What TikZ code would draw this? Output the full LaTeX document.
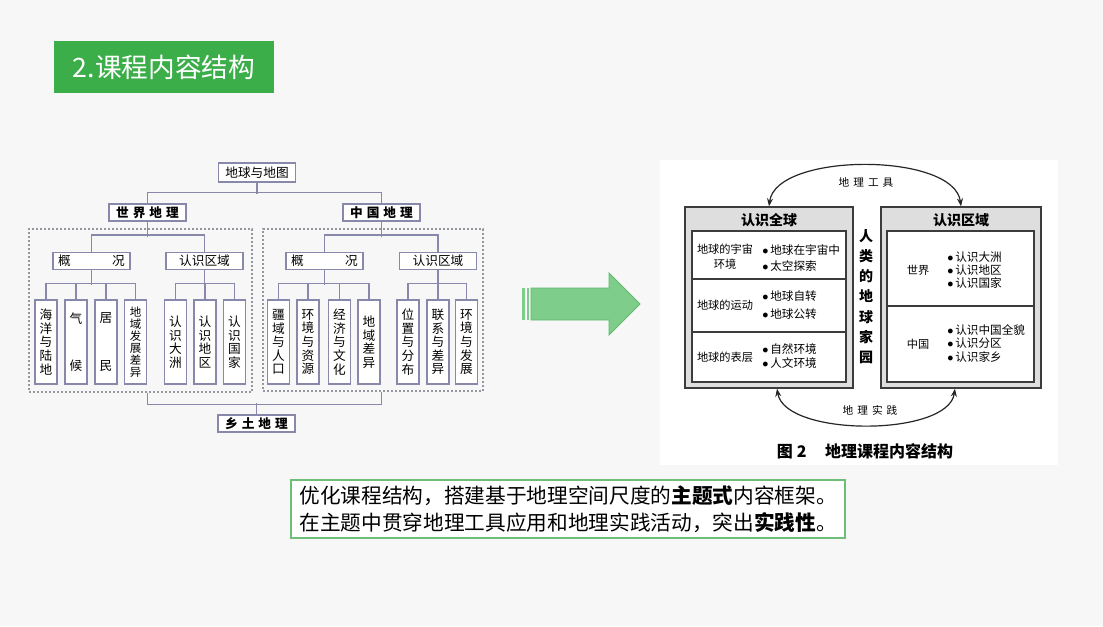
\documentclass[tikz,border=0pt]{standalone}
\usepackage{fontspec}
\setmainfont{Noto Sans CJK SC}
\newfontfamily\song{Noto Sans CJK SC}
\usetikzlibrary{arrows.meta}
\definecolor{bg}{RGB}{247,247,247}
\definecolor{tgreen}{RGB}{59,174,73}
\definecolor{tlc}{RGB}{136,136,170}
\definecolor{dgrey}{RGB}{150,150,160}
\definecolor{agreen}{RGB}{126,205,138}
\definecolor{agreenb}{RGB}{96,186,110}
\definecolor{bgreen}{RGB}{110,190,120}
\definecolor{panel}{RGB}{222,222,222}
\definecolor{dline}{RGB}{60,60,60}
\begin{document}
\begin{tikzpicture}[x=0.75pt,y=-0.75pt,
  tl/.style={draw=tlc, line width=0.8pt},
  tbox/.style={draw=tlc, fill=white, line width=0.8pt, inner sep=0pt, minimum width=57.75pt, minimum height=12.75pt, font=\fontsize{9.5}{10}\selectfont},
  tboxb/.style={tbox, font=\fontsize{9.5}{10}\selectfont\bfseries},
  leaf/.style={draw=tlc, fill=white, line width=0.8pt, inner sep=0pt, minimum width=16.5pt, minimum height=63pt, align=center, font=\fontsize{9.5}{10.2}\selectfont},
  dbox/.style={draw=dgrey, line width=0.8pt, dash pattern=on 1.5pt off 1.5pt, inner sep=0pt},
  obox/.style={draw=dline, fill=panel, line width=1pt, inner sep=0pt},
  ibox/.style={draw=dline, fill=white, line width=1pt, inner sep=0pt},
  stext/.style={font=\song\fontsize{8.4}{11}\selectfont, align=center, inner sep=0pt},
  blist/.style={font=\song\fontsize{8.7}{12}\selectfont, align=left, anchor=west, inner sep=0pt},
  arc/.style={draw=black!85, line width=0.9pt, {Stealth[length=6pt,width=4.5pt]}-{Stealth[length=6pt,width=4.5pt]}},
]
\useasboundingbox (0,0) rectangle (1103,626);
\fill[bg] (0,0) rectangle (1103,626);

% title
\node[fill=tgreen, minimum width=165pt, minimum height=39pt, text=white, inner sep=0pt,
      font=\fontsize{20}{22}\selectfont] (title) at (164,67) {2.课程内容结构};

% ---------- left tree ----------
\node[dbox, minimum width=167.25pt, minimum height=122.25pt] (wbox) at (140.5,310.5) {};
\node[dbox, minimum width=165pt, minimum height=121.5pt] (zbox) at (373,310) {};

\node[tbox, minimum height=14.25pt] (dq) at (257,172.5) {地球与地图};
\node[tboxb] (sj) at (147.5,212.5) {世\hspace{3pt}界\hspace{3pt}地\hspace{3pt}理};
\node[tboxb] (zg) at (381.5,212.5) {中\hspace{3pt}国\hspace{3pt}地\hspace{3pt}理};
\node[tboxb] (xt) at (256.5,423.5) {乡\hspace{3pt}土\hspace{3pt}地\hspace{3pt}理};

\node[tbox] (gk1) at (91.5,261) {概\hspace{31pt}况};
\node[tbox] (rq1) at (204.5,261) {认识区域};
\node[tbox] (gk2) at (324.5,261) {概\hspace{31pt}况};
\node[tbox] (rq2) at (438,261) {认识区域};

\node[leaf] (a1) at (46,342) {海\\洋\\与\\陆\\地};
\node[leaf] (a2) at (76,342) {气\\[25.5pt]候};
\node[leaf] (a3) at (106,342) {居\\[25.5pt]民};
\node[leaf, font=\fontsize{8.6}{9}\selectfont] (a4) at (135.5,342) {地\\域\\发\\展\\差\\异};
\node[leaf] (a5) at (175.5,342) {认\\识\\大\\洲};
\node[leaf] (a6) at (205,342) {认\\识\\地\\区};
\node[leaf] (a7) at (234.5,342) {认\\识\\国\\家};

\node[leaf] (b1) at (278.5,342) {疆\\域\\与\\人\\口};
\node[leaf] (b2) at (308,342) {环\\境\\与\\资\\源};
\node[leaf] (b3) at (339.5,342) {经\\济\\与\\文\\化};
\node[leaf] (b4) at (369,342) {地\\域\\差\\异};
\node[leaf] (b5) at (408,342) {位\\置\\与\\分\\布};
\node[leaf] (b6) at (438,342) {联\\系\\与\\差\\异};
\node[leaf] (b7) at (466.5,342) {环\\境\\与\\发\\展};

\draw[tl] (dq.south) -- ++(0,11);
\draw[tl] (sj.north) -- ++(0,-11) -| (zg.north);

\draw[tl] (sj.south) -- ++(0,15);
\draw[tl] (gk1.north) -- ++(0,-17) -| (rq1.north);
\draw[tl] (gk1.south) -- ++(0,15);
\draw[tl] (a1.north) -- ++(0,-16) -| (a4.north);
\draw[tl] (a2.north) -- ++(0,-16);
\draw[tl] (a3.north) -- ++(0,-16);
\draw[tl] (rq1.south) -- ++(0,15);
\draw[tl] (a5.north) -- ++(0,-16) -| (a7.north);
\draw[tl] (a6.north) -- ++(0,-16);

\draw[tl] (zg.south) -- ++(0,15);
\draw[tl] (gk2.north) -- ++(0,-17) -| (rq2.north);
\draw[tl] (gk2.south) -- ++(0,15);
\draw[tl] (b1.north) -- ++(0,-16) -| (b4.north);
\draw[tl] (b2.north) -- ++(0,-16);
\draw[tl] (b3.north) -- ++(0,-16);
\draw[tl] (rq2.south) -- ++(0,15);
\draw[tl] (b5.north) -- ++(0,-16) -| (b7.north);
\draw[tl] (b6.north) -- ++(0,-16);

\draw[tl] (wbox.south -| sj.south) -- ++(0,12) -| (zbox.south -| zg.south);
\draw[tl] (xt.north) -- ++(0,-11);

% ---------- green arrow ----------
\fill[agreen] (522,288) rectangle (524.5,320);
\fill[agreen] (526.5,288) rectangle (529,320);
\draw[fill=agreen, draw=agreenb, line width=0.6pt]
  (531,288) -- (609,288) -- (609,273) -- (640,304) -- (609,335) -- (609,320) -- (531,320) -- cycle;

% ---------- right figure ----------
\fill[white] (660,160) rectangle (1058,465);

\node[obox, minimum width=126pt, minimum height=135.75pt] (lo) at (769,297.5) {};
\node[ibox, minimum width=115.5pt, minimum height=113.25pt] (li) at (769,306.5) {};
\draw[dline, line width=1pt] (li.west |- 0,279) -- (li.east |- 0,279);
\draw[dline, line width=1pt] (li.west |- 0,332) -- (li.east |- 0,332);
\node[font=\song\bfseries\fontsize{10.5}{11}\selectfont, inner sep=0pt] (lh) at (769,220) {认识全球};

\node[stext] (r1) at (725,256.5) {地球的宇宙\\环境};
\node[blist] (r1b) at (762,258) {$\bullet$\,地球在宇宙中\\$\bullet$\,太空探索};
\node[stext] (r2) at (725,305.5) {地球的运动};
\node[blist, font=\song\fontsize{8.7}{13.5}\selectfont] (r2b) at (762,305) {$\bullet$\,地球自转\\$\bullet$\,地球公转};
\node[stext] (r3) at (725,357) {地球的表层};
\node[blist, font=\song\fontsize{8.7}{10.5}\selectfont] (r3b) at (762,356) {$\bullet$\,自然环境\\$\bullet$\,人文环境};

\node[obox, minimum width=120pt, minimum height=135.75pt] (ro) at (961,297.5) {};
\node[ibox, minimum width=110.25pt, minimum height=113.25pt] (ri) at (960.5,306.5) {};
\draw[dline, line width=1pt] (ri.west |- 0,306) -- (ri.east |- 0,306);
\node[font=\song\bfseries\fontsize{10.5}{11}\selectfont, inner sep=0pt] (rh) at (961,220) {认识区域};

\node[stext] (s1) at (918,270) {世界};
\node[blist, font=\song\fontsize{8.7}{9.75}\selectfont] (s1b) at (947,270) {$\bullet$\,认识大洲\\$\bullet$\,认识地区\\$\bullet$\,认识国家};
\node[stext] (s2) at (918,344) {中国};
\node[blist, font=\song\fontsize{8.7}{10}\selectfont] (s2b) at (947,343.5) {$\bullet$\,认识中国全貌\\$\bullet$\,认识分区\\$\bullet$\,认识家乡};

\node[font=\song\bfseries\fontsize{10.5}{15.15}\selectfont, align=center, inner sep=0pt] (mid) at (866,296.5)
  {人\\类\\的\\地\\球\\家\\园};

\draw[arc] (lo.north) .. controls (776,152) and (954,152) .. (ro.north);
\draw[arc] ([xshift=6pt]lo.south) .. controls (785,437) and (948,437) .. ([xshift=-4.5pt]ro.south);
\node[font=\song\fontsize{8}{8}\selectfont, inner sep=0pt] (gj) at (866,182) {地\hspace{3pt}理\hspace{3pt}工\hspace{3pt}具};
\node[font=\song\fontsize{8}{8}\selectfont, inner sep=0pt] (sj2) at (870,410) {地\hspace{3pt}理\hspace{3pt}实\hspace{3pt}践};

\node[font=\song\bfseries\fontsize{12}{12}\selectfont, inner sep=0pt] (cap) at (865,451)
  {图\hspace{3pt}2\hspace{14pt}地理课程内容结构};

% ---------- bottom message ----------
\node[draw=bgreen, line width=1.1pt, fill=white, minimum width=415.5pt, minimum height=43.5pt, inner sep=0pt,
      align=left, font=\fontsize{15.5}{20.25}\selectfont] (msg) at (568,509)
  {优化课程结构，搭建基于地理空间尺度的{\bfseries 主题式}内容框架。\\在主题中贯穿地理工具应用和地理实践活动，突出{\bfseries 实践性}。};
\end{tikzpicture}
\end{document}
